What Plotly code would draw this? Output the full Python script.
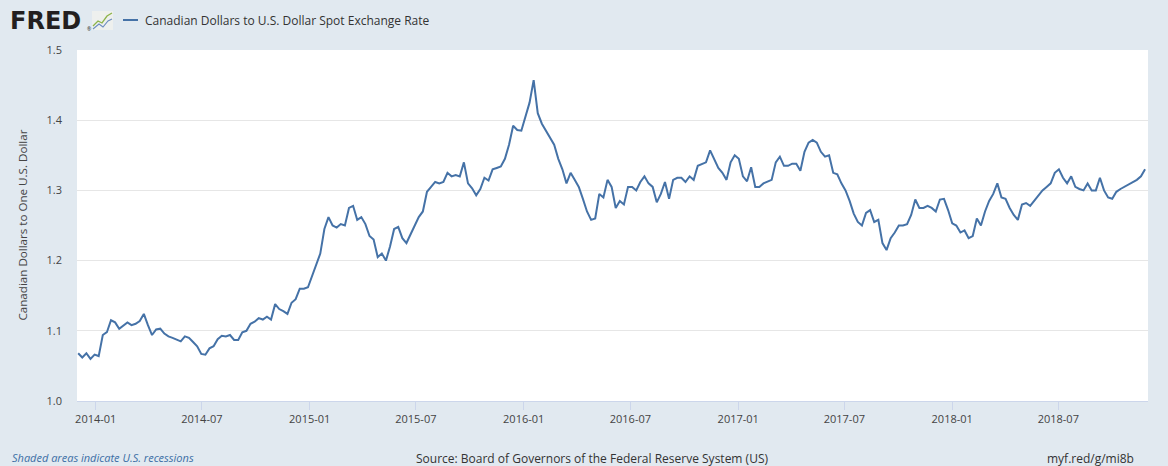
import pandas as pd
import plotly.graph_objects as go

# Weekly (Monday) readings of DEXCAUS
v2013 = [1.068, 1.062, 1.068, 1.060, 1.066]
v2014 = [
    1.064, 1.094, 1.098, 1.115,
    1.112, 1.103, 1.108, 1.112,
    1.108, 1.110, 1.114, 1.124, 1.108,
    1.094, 1.102, 1.103, 1.096,
    1.092, 1.090, 1.088, 1.085,
    1.092, 1.090, 1.084, 1.078, 1.067,
    1.066, 1.075, 1.078, 1.088,
    1.093, 1.092, 1.094, 1.087,
    1.087, 1.098, 1.100, 1.110, 1.113,
    1.118, 1.116, 1.120, 1.116,
    1.138, 1.131, 1.128, 1.124,
    1.140, 1.145, 1.160, 1.160, 1.162,
]
v2015 = [
    1.178, 1.195, 1.210, 1.245,
    1.262, 1.250, 1.247, 1.252,
    1.250, 1.275, 1.278, 1.258, 1.262,
    1.252, 1.235, 1.230, 1.205,
    1.210, 1.200, 1.220, 1.245,
    1.248, 1.232, 1.225, 1.237, 1.250,
    1.262, 1.270, 1.298, 1.305,
    1.312, 1.310, 1.312, 1.325, 1.320,
    1.322, 1.320, 1.340, 1.310,
    1.303, 1.293, 1.302, 1.318,
    1.314, 1.330, 1.332, 1.334, 1.345,
    1.365, 1.392, 1.386, 1.385,
]
v2016 = [
    1.405, 1.425, 1.457, 1.410,
    1.395, 1.385, 1.375, 1.365, 1.345,
    1.330, 1.310, 1.325, 1.315,
    1.305, 1.288, 1.270, 1.258,
    1.260, 1.295, 1.290, 1.315, 1.305,
    1.275, 1.285, 1.280, 1.305,
    1.305, 1.300, 1.312, 1.320,
    1.310, 1.305, 1.283, 1.295, 1.312,
    1.288, 1.315, 1.318, 1.318,
    1.312, 1.320, 1.315, 1.335, 1.338,
    1.340, 1.357, 1.345, 1.332,
    1.325, 1.315, 1.340, 1.350,
]
v2017 = [
    1.345, 1.320, 1.313, 1.333, 1.305,
    1.305, 1.310, 1.312, 1.315,
    1.340, 1.348, 1.335, 1.335,
    1.338, 1.338, 1.328, 1.355,
    1.368, 1.372, 1.368, 1.355, 1.348,
    1.350, 1.325, 1.323, 1.310,
    1.300, 1.285, 1.267, 1.255, 1.250,
    1.268, 1.272, 1.255, 1.258,
    1.225, 1.215, 1.232, 1.240,
    1.250, 1.250, 1.252, 1.265, 1.287,
    1.275, 1.275, 1.278, 1.275,
    1.270, 1.287, 1.288, 1.272,
]
v2018 = [
    1.253, 1.250, 1.240, 1.243, 1.232,
    1.235, 1.260, 1.250, 1.270,
    1.285, 1.295, 1.310, 1.290,
    1.288, 1.275, 1.265, 1.258, 1.280,
    1.282, 1.278, 1.285, 1.292,
    1.300, 1.305, 1.310, 1.325,
    1.330, 1.318, 1.310, 1.320, 1.305,
    1.302, 1.300, 1.310, 1.300,
    1.300, 1.318, 1.300, 1.290,
    1.288, 1.298, 1.302, 1.305, 1.308,
    1.312, 1.315, 1.320, 1.330,
]

values = v2013 + v2014 + v2015 + v2016 + v2017 + v2018
dates = pd.date_range("2013-12-02", periods=len(values), freq="W-MON")

series_name = "Canadian Dollars to U.S. Dollar Spot Exchange Rate"
y_title = "Canadian Dollars to One U.S. Dollar"
y_ticks = [1.0, 1.1, 1.2, 1.3, 1.4, 1.5]
x_ticks = ["2014-01-01", "2014-07-01", "2015-01-01", "2015-07-01", "2016-01-01",
           "2016-07-01", "2017-01-01", "2017-07-01", "2018-01-01", "2018-07-01"]
x_labels = [d[:7] for d in x_ticks]

BG = "#e1e9f0"
LINE = "#4572a7"
FONT = "Open Sans, Roboto, sans-serif"

W, H = 1168, 466
L, R, T, B = 77, 20, 50, 65
PW, PH = W - L - R, H - T - B


def px(x):
    return (x - L) / PW


def py(y):
    return (H - B - y) / PH


fig = go.Figure()
fig.add_trace(go.Scatter(x=dates, y=values, mode="lines", name=series_name,
                         line=dict(color=LINE, width=2), hoverinfo="x+y"))

fig.update_layout(
    width=W, height=H,
    margin=dict(l=L, r=R, t=T, b=B, autoexpand=False),
    paper_bgcolor=BG, plot_bgcolor="white",
    showlegend=False,
    font=dict(family=FONT, size=11, color="#444"),
    xaxis=dict(
        range=["2013-11-30", "2018-12-01"],
        tickvals=x_ticks, ticktext=x_labels,
        showgrid=False, zeroline=False,
        showline=True, linecolor="#ccd6eb", linewidth=1,
        ticks="outside", ticklen=8, tickcolor="#ccd6eb",
        tickfont=dict(size=11, color="#444"),
    ),
    yaxis=dict(
        range=[1.0, 1.5], tickvals=y_ticks,
        ticktext=[f"{t:.1f}" for t in y_ticks],
        showgrid=True, gridcolor="#e6e6e6", gridwidth=1,
        zeroline=False, showline=False, ticks="",
        ticklabelstandoff=14,
        tickfont=dict(size=11, color="#444"),
    ),
)

# FRED logo text
fig.add_annotation(x=px(8), y=py(21), xref="paper", yref="paper",
                   text="<b>FRED</b>", showarrow=False, xanchor="left", yanchor="middle",
                   font=dict(family="DejaVu Sans, Arial, sans-serif", size=24, color="#231f20"))
fig.add_annotation(x=px(85), y=py(29), xref="paper", yref="paper",
                   text="®", showarrow=False, xanchor="left", yanchor="middle",
                   font=dict(size=5, color="#231f20"))
# logo icon
fig.add_shape(type="rect", xref="paper", yref="paper",
              x0=px(92), x1=px(113), y0=py(30), y1=py(11),
              fillcolor="#eef0ee", line=dict(width=0))
fig.add_shape(type="path", xref="paper", yref="paper",
              path=f"M {px(93)} {py(26)} L {px(98)} {py(21)} L {px(102)} {py(23)} L {px(107)} {py(16)} L {px(112)} {py(13)}",
              line=dict(color="#8db34a", width=1.3))
fig.add_shape(type="path", xref="paper", yref="paper",
              path=f"M {px(93)} {py(29)} L {px(99)} {py(24)} L {px(103)} {py(27)} L {px(108)} {py(21)} L {px(112)} {py(19)}",
              line=dict(color="#6c8cbf", width=1.1))

# legend
fig.add_shape(type="line", xref="paper", yref="paper",
              x0=px(123), x1=px(138), y0=py(20), y1=py(20),
              line=dict(color=LINE, width=2))
fig.add_annotation(x=px(143), y=py(20), xref="paper", yref="paper",
                   text=series_name, showarrow=False, xanchor="left", yanchor="middle",
                   font=dict(size=12, color="#333"))

# y-axis title
fig.add_annotation(x=px(22), y=0.5, xref="paper", yref="paper",
                   text=y_title, textangle=-90, showarrow=False,
                   xanchor="center", yanchor="middle",
                   font=dict(size=11.6, color="#444"))

# footer
fig.add_annotation(x=px(10), y=py(457), xref="paper", yref="paper",
                   text="<i>Shaded areas indicate U.S. recessions</i>", showarrow=False,
                   xanchor="left", yanchor="middle",
                   font=dict(size=11, color="#3b6ea5"))
fig.add_annotation(x=px(592), y=py(458), xref="paper", yref="paper",
                   text="Source: Board of Governors of the Federal Reserve System (US)",
                   showarrow=False, xanchor="center", yanchor="middle",
                   font=dict(size=12, color="#333"))
fig.add_annotation(x=px(1136), y=py(458), xref="paper", yref="paper",
                   text="myf.red/g/mi8b", showarrow=False, xanchor="right", yanchor="middle",
                   font=dict(size=12, color="#333"))

fig.write_html("out.html", config={"displayModeBar": False},
               post_script="document.body.style.margin='0';document.body.style.background='" + BG + "';")
